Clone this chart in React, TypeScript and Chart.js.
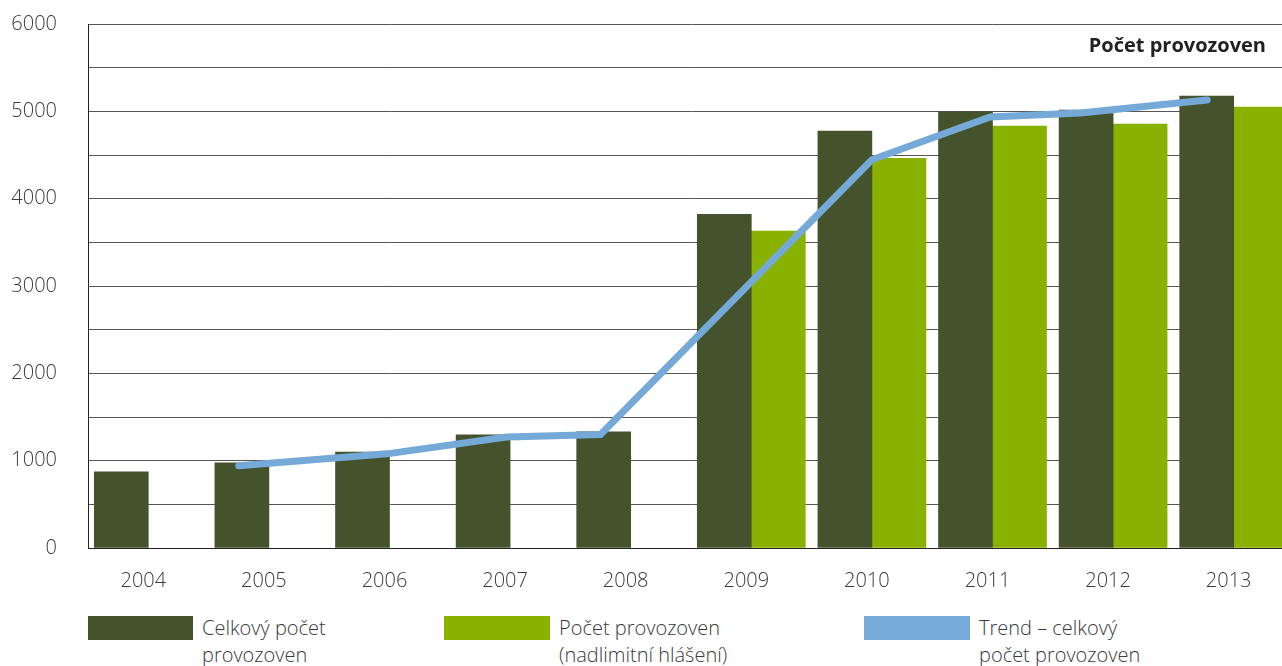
import React, { useEffect, useRef } from "react";
import { Chart, registerables } from "chart.js";

Chart.register(...registerables);

// ---- data ----
const years = ["2004", "2005", "2006", "2007", "2008", "2009", "2010", "2011", "2012", "2013"];
const totalCounts = [873, 976, 1098, 1296, 1331, 3821, 4774, 4995, 5015, 5175];
const reportedCounts: (number | null)[] = [null, null, null, null, null, 3630, 4462, 4832, 4853, 5049];
const trendYears = [2004.75, 2005.98, 2006.97, 2007.75, 2010.0, 2010.98, 2011.73, 2012.78];
const trendValues = [942, 1078, 1272, 1300, 4446, 4935, 4980, 5130];
const yMax = 6000;
const yGridStep = 500;
const yLabelStep = 1000;
const chartTitle = "Počet provozoven";
const legendLabels = [
  ["Celkový počet", "provozoven"],
  ["Počet provozoven", "(nadlimitní hlášení)"],
  ["Trend – celkový", "počet provozoven"],
];

// ---- styles ----
const DARK = "#44532b";
const GREEN = "#88b100";
const BLUE = "#74a9d8";
const TEXT = "#3a3a3a";
const FONT = "'Open Sans', 'Noto Sans', sans-serif";
const CANVAS_W = 1300;
const CANVAS_H = 600;

export default function App() {
  const ref = useRef<HTMLCanvasElement | null>(null);

  useEffect(() => {
    if (!ref.current) return;
    const firstYear = Number(years[0]);
    const chart = new Chart(ref.current, {
      type: "bar",
      data: {
        labels: years,
        datasets: [
          {
            type: "line",
            label: legendLabels[2].join(" "),
            data: trendYears.map((x, i) => ({ x, y: trendValues[i] })),
            xAxisID: "xl",
            borderColor: BLUE,
            backgroundColor: BLUE,
            borderWidth: 7,
            pointRadius: 0,
            tension: 0,
            borderCapStyle: "round",
            borderJoinStyle: "miter",
            order: 0,
          } as any,
          {
            label: legendLabels[0].join(" "),
            data: totalCounts,
            backgroundColor: DARK,
            barThickness: 54,
            order: 1,
          },
          {
            label: legendLabels[1].join(" "),
            data: reportedCounts,
            backgroundColor: GREEN,
            barThickness: 54,
            order: 1,
          },
        ],
      },
      options: {
        responsive: false,
        animation: false,
        layout: { padding: { top: 24, right: 6, left: 0, bottom: 0 } },
        plugins: {
          legend: { display: false },
          tooltip: { enabled: false },
          title: { display: false },
        },
        scales: {
          x: {
            type: "category",
            offset: true,
            grid: { display: false, drawTicks: false },
            border: { display: true, color: "#222", width: 1 },
            ticks: {
              color: TEXT,
              font: { family: FONT, size: 20, weight: "300" as any },
              padding: 21,
              labelOffset: -5,
              maxRotation: 0,
              autoSkip: false,
            },
            afterFit: (s: any) => {
              s.height = 52;
            },
          },
          xl: {
            type: "linear",
            display: false,
            min: firstYear - 0.5,
            max: firstYear + years.length - 0.5,
            offset: false,
          },
          y: {
            min: 0,
            max: yMax,
            grid: { color: "#555", lineWidth: 1, drawTicks: false },
            border: { display: true, color: "#222", width: 1 },
            ticks: {
              stepSize: yGridStep,
              color: TEXT,
              font: { family: FONT, size: 20, weight: "300" as any },
              padding: 31,
              callback: (v: any) => (Number(v) % yLabelStep === 0 ? String(v) : ""),
            },
            afterFit: (s: any) => {
              s.width = 88;
              s.paddingTop = 0;
              s.paddingBottom = 0;
            },
          },
        },
      },
    });
    return () => chart.destroy();
  }, []);

  const legendPos = [
    { box: 88, boxW: 105, text: 202, color: DARK },
    { box: 444, boxW: 106, text: 559, color: GREEN },
    { box: 864, boxW: 106, text: 979, color: BLUE },
  ];

  return (
    <div
      style={{
        position: "fixed",
        left: 0,
        top: 0,
        width: 1282,
        height: 666,
        overflow: "hidden",
        background: "#fff",
        fontFamily: FONT,
      }}
    >
      <canvas
        ref={ref}
        width={CANVAS_W}
        height={CANVAS_H}
        style={{ position: "absolute", left: 0, top: 0, width: CANVAS_W, height: CANVAS_H }}
      />
      <div
        style={{
          position: "absolute",
          right: 16,
          top: 35,
          fontSize: 20,
          lineHeight: "20px",
          fontWeight: 700,
          color: "#222",
          whiteSpace: "nowrap",
        }}
      >
        {chartTitle}
      </div>
      {legendLabels.map((lines, i) => (
        <React.Fragment key={i}>
          <div
            style={{
              position: "absolute",
              left: legendPos[i].box,
              top: 616,
              width: legendPos[i].boxW,
              height: 24,
              background: legendPos[i].color,
            }}
          />
          <div
            style={{
              position: "absolute",
              left: legendPos[i].text,
              top: 614,
              fontSize: 20,
              fontWeight: 300,
              lineHeight: "27px",
              color: TEXT,
              whiteSpace: "nowrap",
            }}
          >
            {lines[0]}
            <br />
            {lines[1]}
          </div>
        </React.Fragment>
      ))}
    </div>
  );
}
